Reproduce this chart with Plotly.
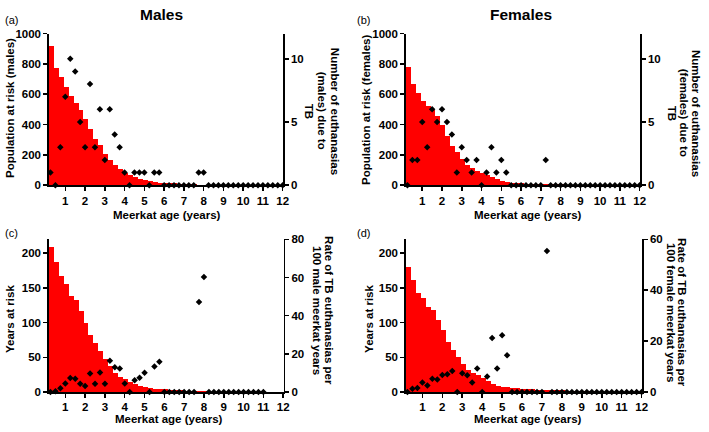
import plotly.graph_objects as go

# ---------------- data ----------------
AGES = [0.25, 0.5, 0.75, 1.0, 1.25, 1.5, 1.75, 2.0, 2.25, 2.5, 2.75, 3.0,
        3.25, 3.5, 3.75, 4.0, 4.25, 4.5, 4.75, 5.0, 5.25, 5.5, 5.75, 6.0,
        6.25, 6.5, 6.75, 7.0, 7.25, 7.5, 7.75, 8.0, 8.25, 8.5, 8.75, 9.0,
        9.25, 9.5, 9.75, 10.0, 10.25, 10.5, 10.75, 11.0, 11.25, 11.5, 11.75, 12.0]

POP_MALES = [915, 770, 712, 650, 590, 540, 498, 437, 370, 302, 264, 204,
             166, 132, 106, 83, 67, 53, 42, 33, 26, 21, 17, 15,
             13, 12, 10, 8, 6, 5, 3, 2, 1, 1, 1, 1,
             1, 1, 1, 1, 1, 1, 1, 1, 0, 0, 0, 0]
POP_FEMALES = [780, 667, 605, 558, 523, 498, 455, 395, 327, 259, 220, 173,
               135, 113, 92, 81, 66, 53, 40, 30, 22, 17, 14, 12,
               11, 10, 9, 8, 7, 6, 5, 5, 4, 4, 3, 3,
               2, 2, 2, 1, 1, 1, 1, 1, 1, 1, 1, 1]
YRS_MALES = [209, 187, 167, 156, 139, 133, 116, 100, 82, 71, 59, 47,
             37, 28, 22, 18, 14, 11, 9, 7.5, 6, 5, 4.5, 4,
             3.5, 3, 2.5, 2, 1.5, 1.2, 1, 0.8, 0.5, 0.4, 0.3, 0.3,
             0.2, 0.2, 0.2, 0.1, 0.1, 0.1, 0.1, 0.1, 0, 0, 0, 0]
YRS_FEMALES = [180, 161, 143, 136, 123, 118, 104, 90, 72, 61, 50, 40,
               31, 28, 24, 20, 16, 12, 9, 7.5, 6.5, 6, 5.5, 5,
               4.5, 4, 3.5, 3.2, 3, 2.8, 2.5, 2.3, 2, 1.8, 1.5, 1.2,
               1, 0.8, 0.6, 0.5, 0.4, 0.3, 0.3, 0.2, 0.2, 0.1, 0.1, 0.1]

EUTH_MALES = [1, 0, 3, 7, 10, 9, 5, 3, 8, 3, 6, 2,
              6, 4, 3, 1, 0, 1, 1, 1, 0, 1, 1, 0,
              0, 0, 0, 0, 0, 0, 1, 1, 0, 0, 0, 0,
              0, 0, 0, 0, 0, 0, 0, 0, 0, 0, 0, 0]
EUTH_FEMALES = [0, 2, 2, 5, 3, 6, 5, 6, 5, 4, 1, 3,
                2, 1, 2, 0, 1, 3, 1, 2, 1, 0, 0, 0,
                0, 0, 0, 0, 2, 0, 0, 0, 0, 0, 0, 0,
                0, 0, 0, 0, 0, 0, 0, 0, 0, 0, 0, 0]
RATE_MALES = [0, 0.4, 1.9, 4.4, 7.3, 6.9, 4.3, 3.1, 9.7, 4.3, 10.2, 4.3,
              16.4, 12.9, 12.3, 4.4, 0, 6.2, 7.4, 10.1, 0, 13.3, 15.9, 0,
              0, 0, 0, 0, 0, 0, 47.1, 60.2, 0, 0, 0, 0,
              0, 0, 0, 0, 0, 0, 0, 0, None, None, None, None]
RATE_FEMALES = [0, 1.3, 1.6, 3.7, 2.5, 5.2, 4.9, 6.7, 7.0, 8.2, 0, 7.4,
                6.6, 3.7, 9.2, 0, 6.1, 21.2, 9.2, 22.3, 14.4, 0, 0, 0,
                0, 0, 0, 0, 55.4, 0, 0, 0, 0, 0, 0, 0,
                0, 0, 0, 0, 0, 0, 0, 0, 0, 0, 0, 0]

X_TICKS = [1, 2, 3, 4, 5, 6, 7, 8, 9, 10, 11, 12]

# ---------------- layout helpers ----------------
W, H = 709, 432
FONT = "Liberation Sans, Arial, sans-serif"
RED = "#ff0000"


def px(x):
    return x / W


def py(y):
    return 1 - y / H


panels = [
    dict(l=49.3, r=285.5, t=28.3, b=184.3, bars=POP_MALES, dots=EUTH_MALES,
         lr=[0, 1000], rr=[0, 12], lt=[0, 200, 400, 600, 800, 1000], rt=[0, 5, 10]),
    dict(l=409.3, r=645.5, t=28.3, b=184.3, bars=POP_FEMALES, dots=EUTH_FEMALES,
         lr=[0, 1000], rr=[0, 12], lt=[0, 200, 400, 600, 800, 1000], rt=[0, 5, 10]),
    dict(l=49.3, r=286.0, t=240.0, b=397.0, bars=YRS_MALES, dots=RATE_MALES,
         lr=[0, 220], rr=[0, 80], lt=[0, 50, 100, 150, 200], rt=[0, 20, 40, 60, 80]),
    dict(l=409.3, r=647.5, t=240.0, b=397.0, bars=YRS_FEMALES, dots=RATE_FEMALES,
         lr=[0, 220], rr=[0, 60], lt=[0, 50, 100, 150, 200], rt=[0, 20, 40, 60]),
]

fig = go.Figure()
layout = {}
axstyle = dict(showline=True, linecolor="black", linewidth=1.6, ticks="outside",
               ticklen=4, tickwidth=1.5, tickcolor="black", showgrid=False,
               zeroline=False, tickfont=dict(family=FONT, size=11.5, color="black", weight="bold"))

for i, p in enumerate(panels):
    xn = i + 1
    yl = 2 * i + 1
    yr = 2 * i + 2
    xname = "x" if xn == 1 else f"x{xn}"
    ylname = "y" if yl == 1 else f"y{yl}"
    yrname = f"y{yr}"

    fig.add_trace(go.Bar(x=AGES, y=p["bars"], width=0.25, offset=-0.08,
                         marker=dict(color=RED, line=dict(width=0)),
                         xaxis=xname, yaxis=ylname, showlegend=False))
    fig.add_trace(go.Scatter(x=AGES, y=p["dots"], mode="markers",
                             marker=dict(symbol="diamond", size=5, color="black"),
                             cliponaxis=False, xaxis=xname, yaxis=yrname,
                             showlegend=False))

    layout["xaxis" if xn == 1 else f"xaxis{xn}"] = dict(
        domain=[px(p["l"]), px(p["r"])], range=[0.17, 12.02], anchor=ylname,
        tickvals=X_TICKS, **axstyle)
    layout["yaxis" if yl == 1 else f"yaxis{yl}"] = dict(
        domain=[py(p["b"]), py(p["t"])], range=p["lr"], anchor=xname,
        tickvals=p["lt"], **axstyle)
    layout[f"yaxis{yr}"] = dict(
        domain=[py(p["b"]), py(p["t"])], range=p["rr"], anchor=xname,
        overlaying=ylname, side="right", tickvals=p["rt"], **axstyle)

ann = []


def text(x, y, s, size=11.5, bold=True, angle=0, xanchor="center"):
    ann.append(dict(x=px(x), y=py(y), xref="paper", yref="paper", text=s,
                    showarrow=False, textangle=angle, xanchor=xanchor, yanchor="middle",
                    font=dict(family=FONT, size=size, color="black",
                              weight="bold" if bold else "normal")))


# panel titles
text(163, 9, "Males", size=15.5)
text(525, 9, "Females", size=15.5)
# panel letters
text(3, 14, "(a)", size=11, bold=False, xanchor="left")
text(358, 14, "(b)", size=11, bold=False, xanchor="left")
text(3, 234, "(c)", size=11, bold=False, xanchor="left")
text(358, 234, "(d)", size=11, bold=False, xanchor="left")
# x titles
text(168, 215, "Meerkat age (years)")
text(533, 215, "Meerkat age (years)")
text(170, 425, "Meerkat age (years)")
text(533, 425, "Meerkat age (years)")
# left y titles
text(10, 105, "Population at risk (males)", angle=-90)
text(369, 107, "Population at risk (females)", angle=-90)
text(10, 322, "Years at risk", angle=-90)
text(372, 322, "Years at risk", angle=-90)
# right y titles (rotated +90, first line on the right)
text(338, 108, "Number of euthanasias", angle=90)
text(325, 108, "(males) due to", angle=90)
text(312, 108, "TB", angle=90)
text(702, 110, "Number of euthanasias", angle=90)
text(690, 110, "(females) due to", angle=90)
text(678, 110, "TB", angle=90)
text(332, 313, "Rate of TB euthanasias per", angle=90)
text(319, 313, "100 male meerkat years", angle=90)
text(688, 315, "Rate of TB euthanasias per", angle=90)
text(676, 315, "100 female meerkat years", angle=90)

fig.update_layout(width=W, height=H, margin=dict(l=0, r=0, t=0, b=0),
                  paper_bgcolor="white", plot_bgcolor="white", bargap=0,
                  barmode="overlay", annotations=ann, hovermode=False, **layout)

fig.write_html("out.html", config={"displayModeBar": False, "staticPlot": True},
               post_script="document.body.style.margin='0px';document.body.style.overflow='hidden';")
